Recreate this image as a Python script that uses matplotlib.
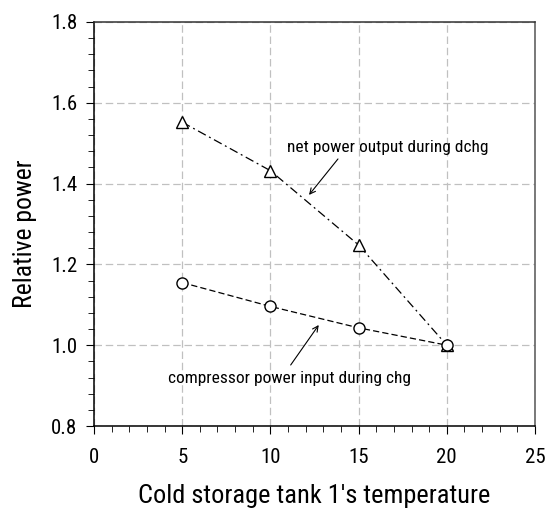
import numpy as np
import matplotlib.pyplot as plt
from matplotlib import font_manager
from matplotlib.ticker import MultipleLocator

# the original uses a narrow Arial; take the closest narrow sans installed
names = set(f.name for f in font_manager.fontManager.ttflist)
for cand in ['Liberation Sans Narrow', 'Roboto Condensed', 'PT Sans Narrow', 'Archivo Narrow']:
    if cand in names:
        plt.rcParams['font.family'] = [cand, 'DejaVu Sans']
        break

# tank temperature and the two relative powers
temps = [5, 10, 15, 20]
net_power = [1.552, 1.432, 1.248, 1.0]
comp_power = [1.155, 1.096, 1.043, 1.0]

fig = plt.figure(figsize=(5.45, 5.15), dpi=100)
ax = fig.add_axes([94/545, 1-426/515, 441/545, 404/515])

ax.plot(temps, net_power, color='black', lw=0.9, linestyle=(0, (7, 3, 1.5, 3)),
        marker='^', markersize=9, markerfacecolor='white', markeredgecolor='black', markeredgewidth=1)
ax.plot(temps, comp_power, color='black', lw=0.9, linestyle=(0, (5, 2.5)),
        marker='o', markersize=8, markerfacecolor='white', markeredgecolor='black', markeredgewidth=1)

ax.set_xlim(0, 25)
ax.set_ylim(0.8, 1.8)
ax.xaxis.set_major_locator(MultipleLocator(5))
ax.xaxis.set_minor_locator(MultipleLocator(1))
ax.yaxis.set_major_locator(MultipleLocator(0.2))
ax.yaxis.set_minor_locator(MultipleLocator(0.04))
ax.yaxis.set_major_formatter(plt.FuncFormatter(lambda v, p: f'{v:.1f}'))

ax.grid(True, which='major', color='#c0c0c0', linestyle=(0, (6, 3)), lw=0.9)
ax.set_axisbelow(True)

ax.tick_params(axis='both', which='both', direction='out', labelsize=15)
ax.tick_params(axis='both', which='major', length=6)
ax.tick_params(axis='both', which='minor', length=4)
ax.tick_params(axis='x', which='major', pad=10)
ax.tick_params(axis='y', which='major', pad=6)
for s in ax.spines.values():
    s.set_linewidth(1.1)
ax.spines['right'].set_color('#555555')
ax.spines['top'].set_color('#333333')

ax.set_xlabel("Cold storage tank 1's temperature", fontsize=19, labelpad=12)
ax.set_ylabel("Relative power", fontsize=18.5)
ax.yaxis.set_label_coords(-0.13, 0.475)

ax.text(16.67, 1.478, 'net power output during dchg', fontsize=12.5, ha='center', va='baseline')
ax.annotate('', xy=(12.19, 1.372), xytext=(13.83, 1.461),
            arrowprops=dict(arrowstyle='->', color='black', lw=0.8, shrinkA=0, shrinkB=0))

ax.text(11.08, 0.906, 'compressor power input during chg', fontsize=12.5, ha='center', va='baseline')
ax.annotate('', xy=(12.74, 1.05), xytext=(11.15, 0.951),
            arrowprops=dict(arrowstyle='->', color='black', lw=0.8, shrinkA=0, shrinkB=0))

fig.savefig('out.png', dpi=100)
